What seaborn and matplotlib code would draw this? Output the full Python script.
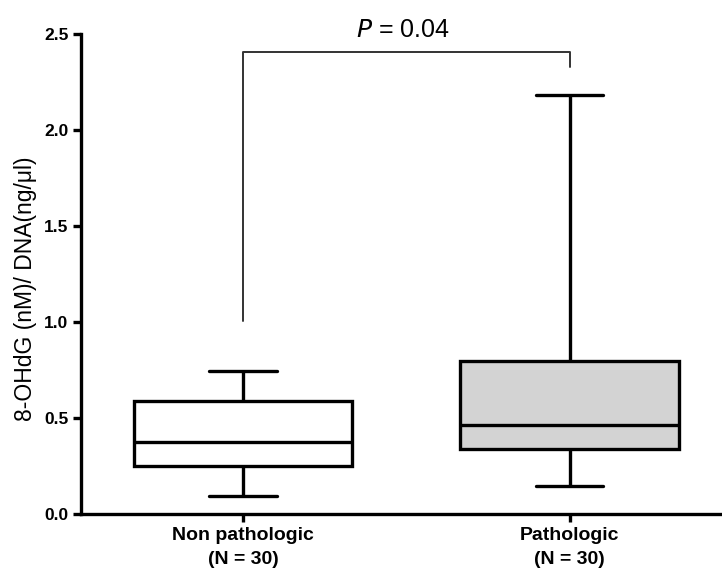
import matplotlib
matplotlib.use("Agg")
import matplotlib.pyplot as plt
import seaborn as sns
import pandas as pd
import numpy as np

# ---- data ----
categories = ["Non pathologic\n(N = 30)", "Pathologic\n(N = 30)"]
# five-number summaries: whisker low, Q1, median, Q3, whisker high
non_pathologic = [0.096, 0.251, 0.379, 0.590, 0.748]
pathologic = [0.148, 0.342, 0.464, 0.801, 2.183]
box_colors = ["white", "#d3d3d3"]
y_ticks = [0.0, 0.5, 1.0, 1.5, 2.0, 2.5]
p_text = "0.04"
bracket_top = 2.406
bracket_left_end = 1.008
bracket_right_end = 2.328

sns.set_theme(style="ticks")
plt.rcParams["font.family"] = ["Liberation Sans", "DejaVu Sans"]
plt.rcParams["text.color"] = "black"
plt.rcParams["axes.labelcolor"] = "black"
plt.rcParams["xtick.color"] = "black"
plt.rcParams["ytick.color"] = "black"

df = pd.DataFrame({
    "group": [categories[0]] * len(non_pathologic) + [categories[1]] * len(pathologic),
    "value": non_pathologic + pathologic,
})

fig = plt.figure(figsize=(7.22, 5.71), dpi=100)
ax = fig.add_axes([0.1122, 0.099, 0.8878, 0.8415])

box_width = 0.668
sns.boxplot(data=df, x="group", y="value", hue="group", palette=box_colors,
            order=categories, hue_order=categories, legend=False,
            whis=(0, 100), width=box_width, linewidth=2.4, linecolor="black",
            ax=ax, showfliers=False,
            medianprops=dict(color="black", linewidth=2.4))

# shorten the whisker caps (style only)
cap_half = 0.104
for ln in ax.lines:
    xd = np.asarray(ln.get_xdata(), dtype=float)
    yd = np.asarray(ln.get_ydata(), dtype=float)
    if len(xd) == 2 and yd[0] == yd[1]:
        length = abs(xd[1] - xd[0])
        if length < box_width * 0.9:
            c = xd.mean()
            ln.set_xdata([c - cap_half, c + cap_half])

ax.set_xlim(-0.496, 1.467)
ax.set_ylim(0, 2.5)
ax.set_yticks(y_ticks)
ax.set_yticklabels([f"{t:.1f}" for t in y_ticks], fontweight="bold", fontsize=12.5,
                   color="black")
ax.set_xticks([0, 1])
ax.set_xticklabels(categories, fontweight="bold", fontsize=14, linespacing=1.55,
                   color="black")
ax.set_xlabel("")
ax.set_ylabel("8-OHdG (nM)/ DNA(ng/μl)", fontsize=16.5, color="black")
ax.yaxis.set_label_coords(-0.068, 0.47)

for s in ["top", "right"]:
    ax.spines[s].set_visible(False)
for s in ["left", "bottom"]:
    ax.spines[s].set_linewidth(2.4)
    ax.spines[s].set_color("black")
ax.tick_params(axis="both", direction="out", length=6, width=2.4, color="black")
ax.tick_params(axis="x", pad=3)
ax.tick_params(axis="y", pad=3)

# significance bracket
ax.plot([0, 0, 1, 1], [bracket_left_end, bracket_top, bracket_top, bracket_right_end],
        color="#333333", linewidth=1.4, clip_on=False)
ax.text(0.49, 2.484, f"$\\it{{P}}$ = {p_text}", ha="center", va="baseline", fontsize=18,
        color="black", clip_on=False)

fig.savefig("out.png", dpi=100)
